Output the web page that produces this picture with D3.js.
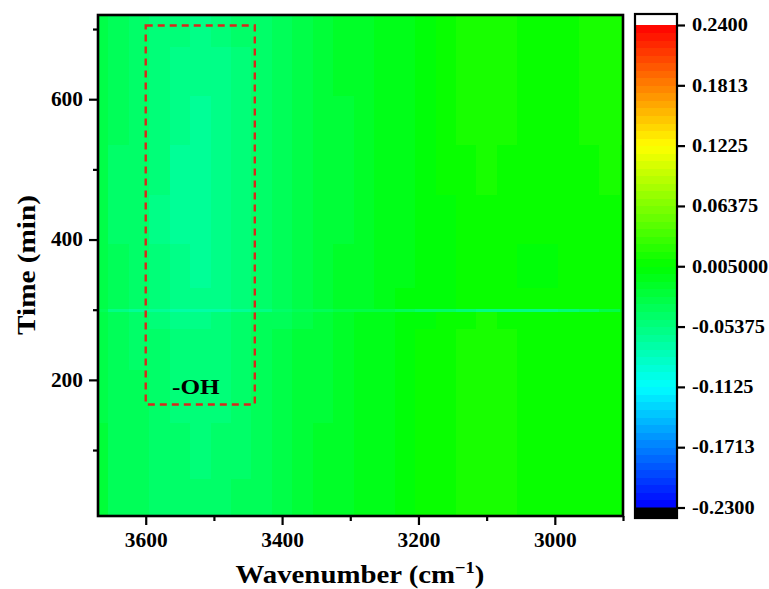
<!DOCTYPE html>
<html>
<head>
<meta charset="utf-8">
<script src="https://cdn.jsdelivr.net/npm/d3@7"></script>
<style>
  html, body { margin: 0; padding: 0; background: #ffffff; }
  svg { display: block; }
  text { font-family: "Liberation Serif", "Times New Roman", serif; font-weight: bold; fill: #000; }
</style>
</head>
<body>
<svg id="chart" width="769" height="589"></svg>
<script>
// ---------------- DATA ----------------
const wavenumbers = [3670, 3640, 3610, 3580, 3550, 3520, 3490, 3460, 3430, 3400, 3370, 3340, 3310, 3280,
                     3250, 3220, 3190, 3160, 3130, 3100, 3070, 3040, 3010, 2980, 2950, 2920, 2890];
const times = [20, 100, 180, 250, 296, 300, 304, 360, 430, 500, 570, 640, 710];

const dA_t20  = [-0.024,-0.032,-0.037,-0.042,-0.044,-0.045,-0.043,-0.038,-0.033,-0.027,-0.022,-0.017,-0.012,-0.008,-0.004,0.000,0.006,0.011,0.015,0.015,0.014,0.012,0.010,0.009,0.009,0.008,0.006];
const dA_t100 = [-0.024,-0.033,-0.038,-0.043,-0.046,-0.047,-0.045,-0.040,-0.034,-0.028,-0.022,-0.017,-0.012,-0.008,-0.004,0.000,0.006,0.011,0.015,0.016,0.014,0.012,0.010,0.010,0.010,0.008,0.006];
const dA_t180 = [-0.025,-0.034,-0.039,-0.045,-0.048,-0.050,-0.047,-0.041,-0.035,-0.029,-0.023,-0.018,-0.013,-0.008,-0.004,0.000,0.006,0.011,0.015,0.016,0.014,0.012,0.010,0.011,0.012,0.010,0.007];
const dA_t250 = [-0.026,-0.035,-0.040,-0.046,-0.050,-0.052,-0.049,-0.043,-0.036,-0.030,-0.024,-0.019,-0.013,-0.008,-0.004,0.000,0.005,0.010,0.015,0.016,0.014,0.012,0.010,0.011,0.012,0.010,0.008];
const dA_t296 = [-0.027,-0.036,-0.042,-0.048,-0.054,-0.056,-0.052,-0.045,-0.038,-0.032,-0.026,-0.020,-0.014,-0.009,-0.005,-0.001,0.004,0.008,0.012,0.013,0.012,0.010,0.009,0.010,0.011,0.010,0.008];
const dA_t300 = [-0.035,-0.058,-0.064,-0.068,-0.072,-0.075,-0.070,-0.064,-0.056,-0.046,-0.038,-0.032,-0.028,-0.026,-0.028,-0.032,-0.040,-0.046,-0.052,-0.056,-0.058,-0.058,-0.056,-0.050,-0.042,-0.025,-0.005];
const dA_t304 = [-0.028,-0.038,-0.044,-0.051,-0.058,-0.060,-0.055,-0.048,-0.040,-0.034,-0.028,-0.022,-0.016,-0.010,-0.006,-0.002,0.002,0.004,0.006,0.007,0.006,0.005,0.005,0.006,0.007,0.008,0.008];
const dA_t360 = [-0.029,-0.039,-0.045,-0.053,-0.061,-0.064,-0.058,-0.050,-0.042,-0.035,-0.029,-0.023,-0.017,-0.011,-0.007,-0.003,0.001,0.003,0.005,0.006,0.005,0.004,0.004,0.005,0.006,0.008,0.008];
const dA_t430 = [-0.030,-0.040,-0.046,-0.054,-0.062,-0.066,-0.060,-0.051,-0.043,-0.036,-0.030,-0.024,-0.018,-0.012,-0.008,-0.004,0.001,0.004,0.008,0.010,0.008,0.006,0.005,0.007,0.010,0.011,0.010];
const dA_t500 = [-0.030,-0.040,-0.046,-0.053,-0.062,-0.066,-0.060,-0.051,-0.043,-0.036,-0.030,-0.024,-0.018,-0.012,-0.008,-0.004,0.002,0.006,0.011,0.014,0.011,0.008,0.006,0.009,0.012,0.014,0.011];
const dA_t570 = [-0.029,-0.039,-0.045,-0.052,-0.060,-0.063,-0.058,-0.050,-0.042,-0.036,-0.030,-0.024,-0.018,-0.012,-0.008,-0.003,0.002,0.007,0.013,0.015,0.013,0.009,0.007,0.010,0.014,0.015,0.013];
const dA_t640 = [-0.028,-0.038,-0.044,-0.050,-0.056,-0.058,-0.055,-0.048,-0.041,-0.035,-0.029,-0.023,-0.017,-0.012,-0.007,-0.003,0.003,0.008,0.014,0.016,0.014,0.010,0.008,0.011,0.015,0.016,0.014];
const dA_t710 = [-0.028,-0.036,-0.042,-0.048,-0.052,-0.055,-0.052,-0.046,-0.040,-0.034,-0.028,-0.022,-0.016,-0.011,-0.007,-0.003,0.002,0.008,0.015,0.016,0.015,0.010,0.008,0.012,0.015,0.016,0.015];
const grid = [dA_t20, dA_t100, dA_t180, dA_t250, dA_t296, dA_t300, dA_t304, dA_t360, dA_t430, dA_t500, dA_t570, dA_t640, dA_t710];

const xTicksMajor = [3600, 3400, 3200, 3000];
const xTicksMinor = [3500, 3300, 3100, 2900];
const yTicksMajor = [200, 400, 600];
const yTicksMinor = [100, 300, 500, 700];

const levelMin = -0.23, levelMax = 0.24, nLevels = 64;
const colorStops = [-0.23, -0.1125, 0.005, 0.1225, 0.24];
const colorStopColors = ["#0000ff", "#00ffff", "#00ff00", "#ffff00", "#ff0000"];
const cbarTickValues = [0.24, 0.18125, 0.1225, 0.06375, 0.005, -0.05375, -0.1125, -0.17125, -0.23];
const cbarTickLabels = ["0.2400", "0.1813", "0.1225", "0.06375", "0.005000", "-0.05375", "-0.1125", "-0.1713", "-0.2300"];

const ohBox = { wnFrom: 3600, wnTo: 3440, tFrom: 165, tTo: 705 };
const ohLabel = { text: "-OH", wn: 3525, t: 190 };

// ---------------- LAYOUT ----------------
const svg = d3.select("#chart");
const plot = { left: 98, top: 15, right: 623, bottom: 516 };

const x = d3.scaleLinear().domain([3670, 2900]).range([plot.left, plot.right]);
const y = d3.scaleLinear().domain([6, 720]).range([plot.bottom, plot.top]);

const cmap = d3.scaleLinear().domain(colorStops).range(colorStopColors).interpolate(d3.interpolateRgb);
const step = (levelMax - levelMin) / nLevels;
function bandColor(v) {
  let b = Math.floor((v - levelMin) / step);
  b = Math.max(0, Math.min(nLevels - 1, b));
  return cmap(levelMin + (b + 0.5) * step);
}

// horizontal stretch of text around its anchor x
function stretch(sel, s) {
  sel.each(function () {
    const t = d3.select(this);
    const ax = +t.attr("x") || 0;
    const prev = t.attr("transform") || "";
    t.attr("transform", `${prev} translate(${ax * (1 - s)},0) scale(${s},1)`);
  });
}

// clip
svg.append("defs").append("clipPath").attr("id", "plotClip")
  .append("rect").attr("x", plot.left).attr("y", plot.top)
  .attr("width", plot.right - plot.left).attr("height", plot.bottom - plot.top);

// cell boundaries
const wnEdges = [];
for (let j = 0; j < wavenumbers.length; j++) {
  const prev = j === 0 ? wavenumbers[0] + (wavenumbers[0] - wavenumbers[1]) : wavenumbers[j - 1];
  const next = j === wavenumbers.length - 1 ? wavenumbers[j] - (wavenumbers[j - 1] - wavenumbers[j]) : wavenumbers[j + 1];
  wnEdges.push([(prev + wavenumbers[j]) / 2, (wavenumbers[j] + next) / 2]);
}
const tEdges = [];
for (let i = 0; i < times.length; i++) {
  const lo = i === 0 ? y.domain()[0] : (times[i - 1] + times[i]) / 2;
  const hi = i === times.length - 1 ? y.domain()[1] : (times[i] + times[i + 1]) / 2;
  tEdges.push([lo, hi]);
}

const cells = [];
grid.forEach((row, i) => row.forEach((v, j) => cells.push({ i, j, v })));

const gHeat = svg.append("g").attr("clip-path", "url(#plotClip)");
gHeat.selectAll("rect").data(cells).join("rect")
  .attr("x", d => x(wnEdges[d.j][0]))
  .attr("width", d => x(wnEdges[d.j][1]) - x(wnEdges[d.j][0]) + 0.6)
  .attr("y", d => y(tEdges[d.i][1]))
  .attr("height", d => y(tEdges[d.i][0]) - y(tEdges[d.i][1]) + 0.6)
  .attr("fill", d => bandColor(d.v))
  .attr("shape-rendering", "crispEdges");

// -OH annotation
svg.append("rect")
  .attr("x", x(ohBox.wnFrom)).attr("y", y(ohBox.tTo))
  .attr("width", x(ohBox.wnTo) - x(ohBox.wnFrom))
  .attr("height", y(ohBox.tFrom) - y(ohBox.tTo))
  .attr("fill", "none").attr("stroke", "#d8281c").attr("stroke-width", 2.4)
  .attr("stroke-dasharray", "7,5");
svg.append("text").attr("x", x(ohLabel.wn) - 1).attr("y", y(ohLabel.t)).attr("dy", "0.35em")
  .attr("text-anchor", "middle").style("font-size", "21px").text(ohLabel.text)
  .call(stretch, 1.2);

// axes
function styleAxis(g) {
  g.select(".domain").remove();
  g.selectAll(".tick line").attr("stroke", "#000").attr("stroke-width", 2.2);
}
svg.append("g").attr("transform", `translate(0,${plot.bottom})`)
  .call(d3.axisBottom(x).tickValues(xTicksMajor).tickSize(9).tickPadding(8).tickFormat(d3.format("d")))
  .call(styleAxis)
  .call(g => g.selectAll("text").style("font-size", "20px").style("font-family", null).call(stretch, 1.07));
svg.append("g").attr("transform", `translate(0,${plot.bottom})`)
  .call(d3.axisBottom(x).tickValues(xTicksMinor).tickSize(5).tickFormat(""))
  .call(styleAxis);
svg.append("g").attr("transform", `translate(${plot.left},0)`)
  .call(d3.axisLeft(y).tickValues(yTicksMajor).tickSize(9).tickPadding(6).tickFormat(d3.format("d")))
  .call(styleAxis)
  .call(g => g.selectAll("text").style("font-size", "20px").style("font-family", null).call(stretch, 1.07));
svg.append("g").attr("transform", `translate(${plot.left},0)`)
  .call(d3.axisLeft(y).tickValues(yTicksMinor).tickSize(5).tickFormat(""))
  .call(styleAxis);

// frame
svg.append("rect").attr("x", plot.left).attr("y", plot.top)
  .attr("width", plot.right - plot.left).attr("height", plot.bottom - plot.top)
  .attr("fill", "none").attr("stroke", "#000").attr("stroke-width", 2.6);

// axis titles
const xt = svg.append("text").attr("x", 360).attr("y", 583)
  .attr("text-anchor", "middle").style("font-size", "25px");
xt.append("tspan").text("Wavenumber (cm");
xt.append("tspan").attr("dy", -10).style("font-size", "16px").text("\u22121");
xt.append("tspan").attr("dy", 10).text(")");
{
  const w = xt.node().getBBox().width;
  xt.call(stretch, 249 / w);
}

const yt = svg.append("text").attr("x", 0).attr("y", 0)
  .attr("text-anchor", "middle").attr("dy", "0.35em").style("font-size", "26px").text("Time (min)");
{
  const w = yt.node().getBBox().width;
  yt.attr("transform", `translate(26,265) rotate(-90) scale(${140 / w},1)`);
}

// ---------------- COLOR BAR ----------------
const cb = { left: 635, right: 677, top: 14, bottom: 518 };
const cy = d3.scaleLinear().domain([levelMin, levelMax]).range([507.5, 25]);
const levels = d3.range(nLevels);
svg.append("g").selectAll("rect").data(levels).join("rect")
  .attr("x", cb.left).attr("width", cb.right - cb.left)
  .attr("y", d => cy(levelMin + (d + 1) * step))
  .attr("height", d => cy(levelMin + d * step) - cy(levelMin + (d + 1) * step) + 0.5)
  .attr("fill", d => cmap(levelMin + (d + 0.5) * step))
  .attr("shape-rendering", "crispEdges");
svg.append("rect").attr("x", cb.left).attr("width", cb.right - cb.left)
  .attr("y", cb.top).attr("height", cy(levelMax) - cb.top).attr("fill", "#ffffff");
svg.append("rect").attr("x", cb.left).attr("width", cb.right - cb.left)
  .attr("y", cy(levelMin)).attr("height", cb.bottom - cy(levelMin)).attr("fill", "#000000");
svg.append("rect").attr("x", cb.left).attr("y", cb.top)
  .attr("width", cb.right - cb.left).attr("height", cb.bottom - cb.top)
  .attr("fill", "none").attr("stroke", "#000").attr("stroke-width", 2.2);

svg.append("g").attr("transform", `translate(${cb.right},0)`)
  .call(d3.axisRight(cy).tickValues(cbarTickValues).tickSize(8).tickPadding(7)
    .tickFormat((d, i) => cbarTickLabels[i]))
  .call(styleAxis)
  .call(g => g.selectAll("text").style("font-size", "18px").style("font-family", null).call(stretch, 1.13));
</script>
</body>
</html>
